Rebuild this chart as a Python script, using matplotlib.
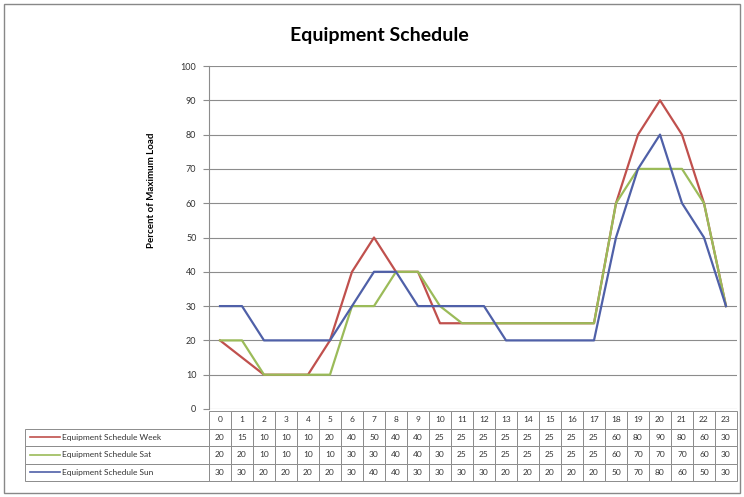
import matplotlib
matplotlib.use('Agg')
import matplotlib.pyplot as plt

plt.rcParams['font.family'] = ['Lato', 'DejaVu Sans']

hours = list(range(24))
week = [20, 15, 10, 10, 10, 20, 40, 50, 40, 40, 25, 25, 25, 25, 25, 25, 25, 25, 60, 80, 90, 80, 60, 30]
sat = [20, 20, 10, 10, 10, 10, 30, 30, 40, 40, 30, 25, 25, 25, 25, 25, 25, 25, 60, 70, 70, 70, 60, 30]
sun = [30, 30, 20, 20, 20, 20, 30, 40, 40, 30, 30, 30, 30, 20, 20, 20, 20, 20, 50, 70, 80, 60, 50, 30]
labels = ['Equipment Schedule Week', 'Equipment Schedule Sat', 'Equipment Schedule Sun']
colors = ['#C0504D', '#9BBB59', '#4F60A8']

W, H = 744, 497
fig = plt.figure(figsize=(W / 100, H / 100), dpi=100)
fig.patches.append(plt.Rectangle((4 / W, 4 / H), 1 - 8 / W, 1 - 8 / H, transform=fig.transFigure,
                                 fill=False, edgecolor='#888888', linewidth=1))

# plot area (pixel bounds from the reference)
left, right, top, bottom = 209, 737, 66, 409
ax = fig.add_axes([left / W, 1 - bottom / H, (right - left) / W, (bottom - top) / H])

for vals, lab, col in zip([week, sat, sun], labels, colors):
    ax.plot(hours, vals, color=col, linewidth=1.6, label=lab)

ax.set_xlim(-0.5, 23.5)
ax.set_ylim(0, 100)
ax.set_yticks(range(0, 101, 10))
ax.set_xticks([])
ax.yaxis.grid(True, color='#8c8c8c', linewidth=0.8)
ax.set_axisbelow(True)
for s in ['top', 'right', 'bottom']:
    ax.spines[s].set_visible(False)
ax.spines['left'].set_color('#8c8c8c')
ax.tick_params(axis='y', labelsize=6.5, colors='#8c8c8c', labelcolor='#333333', length=4, pad=5)

fig.text(152 / W, 1 - 190 / H, 'Percent of Maximum Load', fontsize=7, fontweight='bold',
         rotation=90, ha='center', va='center')
fig.text(379 / W, 1 - 36 / H, 'Equipment Schedule', fontsize=14, fontweight='bold', ha='center', va='center')

# data table under the chart
tab_left, tab_right, tab_top, tab_bottom = 25, right, 411, 481
ax_w, ax_h = right - left, bottom - top
label_w = left - tab_left
cell_w = (right - left) / 24
col_widths = [label_w / (tab_right - tab_left)] + [cell_w / (tab_right - tab_left)] * 24
cell_text = [[lab] + [str(v) for v in vals] for lab, vals in zip(labels, [week, sat, sun])]
bbox = [(tab_left - left) / ax_w, (bottom - tab_bottom) / ax_h,
        (tab_right - tab_left) / ax_w, (tab_bottom - tab_top) / ax_h]
tbl = ax.table(cellText=cell_text, colLabels=[''] + [str(h) for h in hours],
               colWidths=col_widths, bbox=bbox, cellLoc='center')
tbl.auto_set_font_size(False)
tbl.set_fontsize(6)
for (r, c), cell in tbl.get_celld().items():
    cell.set_edgecolor('#8c8c8c')
    cell.set_linewidth(0.7)
    cell.get_text().set_color('#333333')
    if r == 0 and c == 0:
        cell.visible_edges = ''
    if r > 0 and c == 0:
        cell.get_text().set_ha('left')
        cell._loc = 'left'
        cell.PAD = 0.2

# legend keys inside the label cells
row_h = (tab_bottom - tab_top) / 4
for i, col in enumerate(colors):
    yc = tab_top + row_h * (i + 1.5)
    ya = (bottom - yc) / ax_h
    ax.plot([(30 - left) / ax_w, (60 - left) / ax_w], [ya, ya], color=col, linewidth=1.2,
            transform=ax.transAxes, clip_on=False)

fig.savefig('out.png', dpi=100)
